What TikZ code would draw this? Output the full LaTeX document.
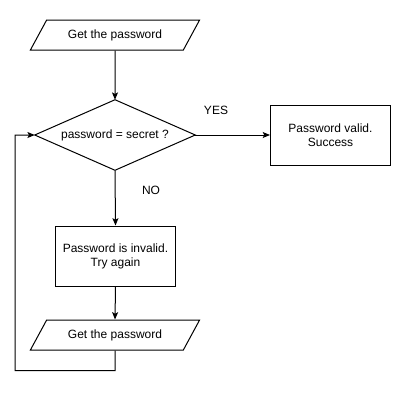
\documentclass[tikz,border=0pt]{standalone}
\usepackage{fontspec}
\setmainfont{Liberation Sans}
\usetikzlibrary{shapes.geometric,arrows.meta}
\begin{document}
\begin{tikzpicture}[x=0.75pt,y=-0.75pt,
  every node/.style={font=\fontsize{9}{10.5}\selectfont, text=black},
  io/.style={draw, line width=0.75pt, trapezium, trapezium left angle=45,
    trapezium right angle=135, trapezium stretches=true,
    minimum width=127.5pt, minimum height=22.5pt, inner sep=0pt},
  proc/.style={draw, rectangle, line width=0.75pt, minimum width=90pt,
    minimum height=45pt, align=center, inner sep=0pt},
  dec/.style={rectangle, minimum width=120pt, minimum height=52.5pt, inner sep=0pt},
  arr/.style={line width=0.75pt, -{Stealth[length=5.5pt,width=4.5pt,inset=1.2pt]}},
  plain/.style={line width=0.75pt}]
\useasboundingbox (0,0) rectangle (400,400);
\node[io] (p1) at (115,35) {Get the password};
\node[dec] (d) at (115,135) {password = secret ?};
\draw[plain] (d.north) -- (d.east) -- (d.south) -- (d.west) -- cycle;
\node[proc] (ok) at (330.5,135) {Password valid.\\Success};
\node[proc] (bad) at (115.5,256) {Password is invalid.\\Try again};
\node[io] (p2) at (115,335) {Get the password};
\node (yes) at (216,110) {YES};
\node (no) at (151,190) {NO};
\coordinate (c1) at (115,370.5);
\coordinate (c2) at (15,370.5);
\draw[arr] (p1.south) -- (d.north);
\draw[arr] (d.east) -- (ok.west);
\draw[arr] (d.south) -- (bad.north);
\draw[arr] (bad.south) -- (p2.north);
\draw[arr] (p2.south) -- (c1) -- (c2) |- (d.west);
\end{tikzpicture}
\end{document}
